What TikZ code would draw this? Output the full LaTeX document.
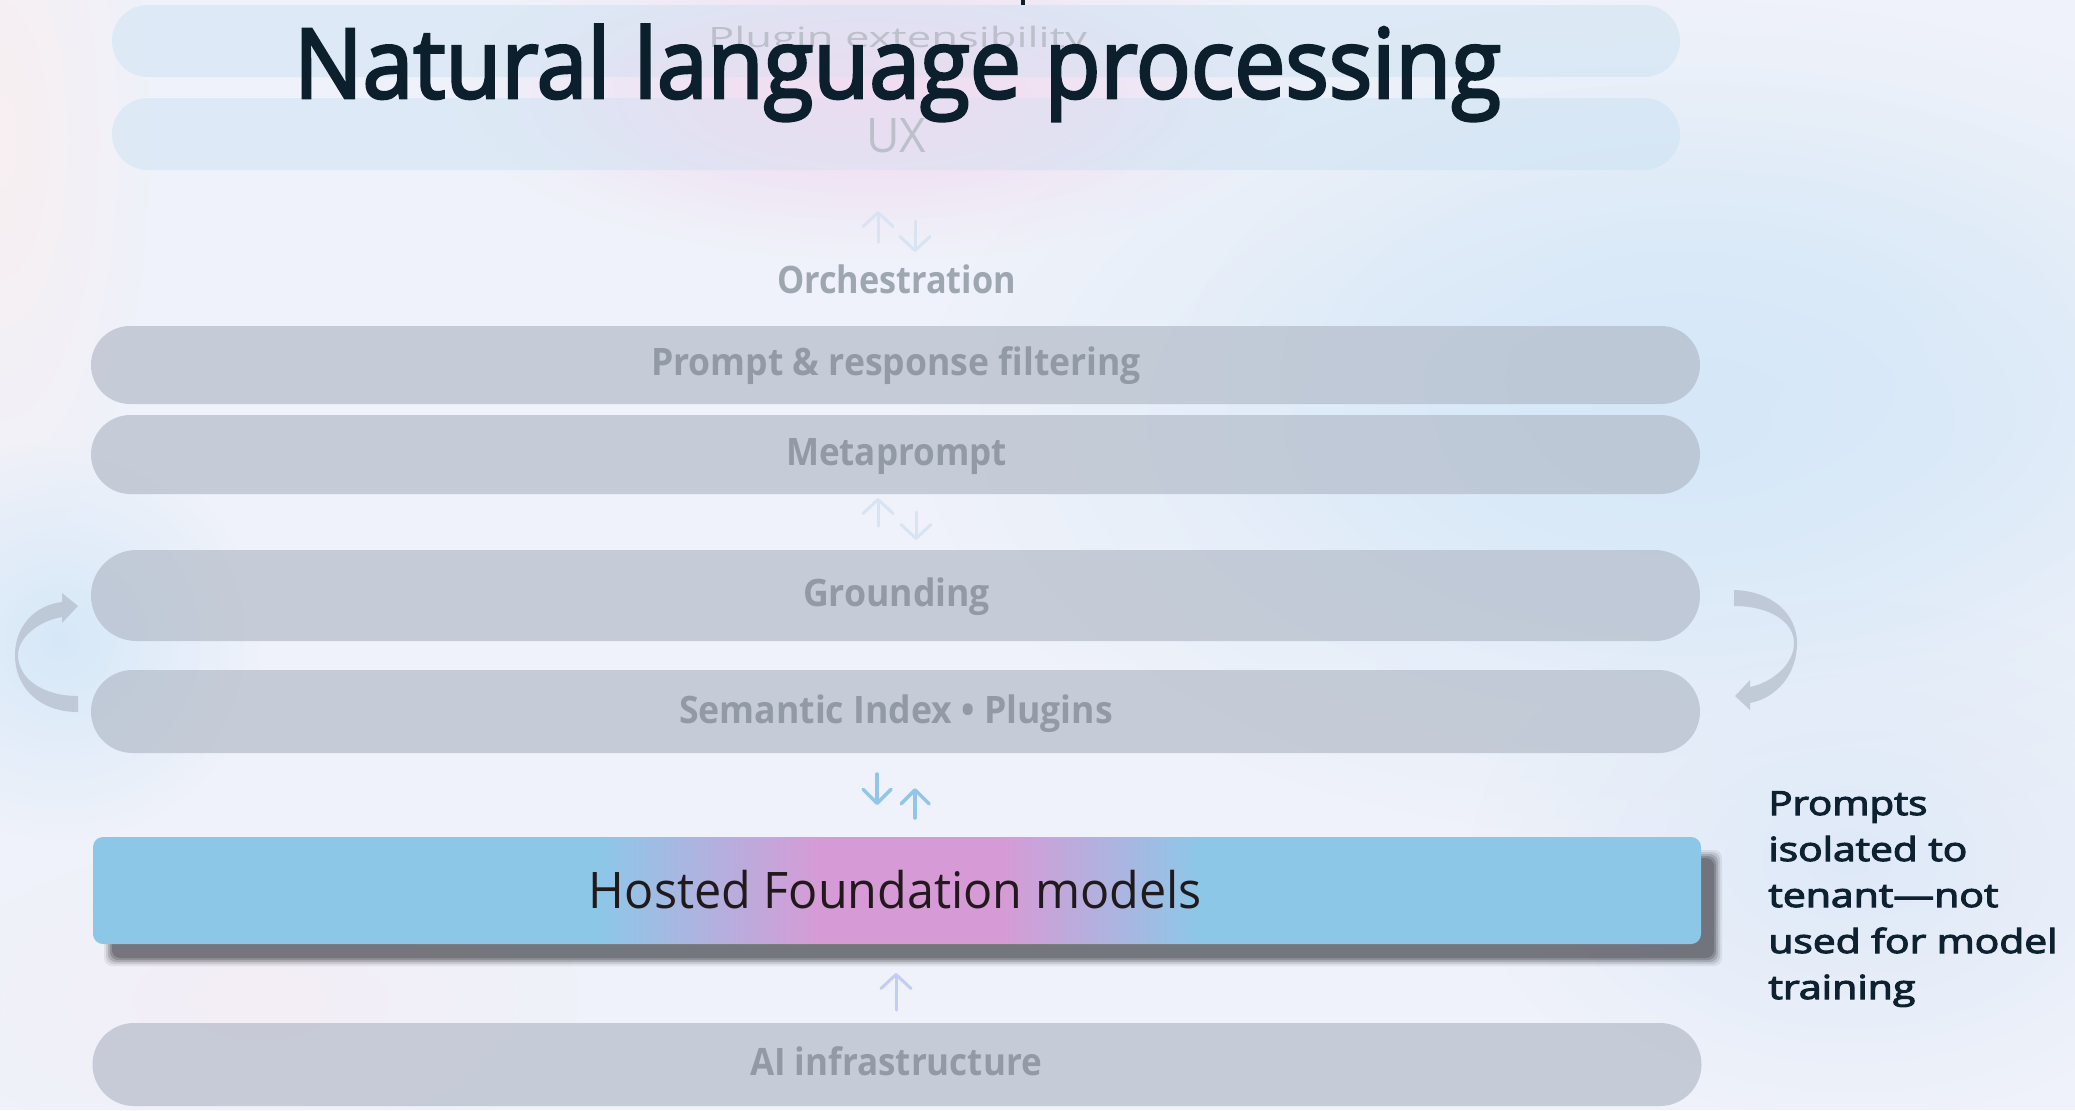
\documentclass[tikz,border=0pt]{standalone}
\usepackage{fontspec}
\usepackage{graphicx}
\setmainfont{Open Sans}
\newfontfamily\semib[FakeBold=3]{Open Sans}
\usetikzlibrary{arrows.meta,fadings}

\definecolor{bgbase}{HTML}{EFF2FA}
\definecolor{blobpink}{HTML}{F8EFF1}
\definecolor{bloblav}{HTML}{F1DDF1}
\definecolor{blobblue}{HTML}{D6E8F8}
\definecolor{blobbluec}{HTML}{D6E8F8}
\definecolor{blobblueb}{HTML}{DEE9F8}
\definecolor{bloblavb}{HTML}{F4EDF6}
\definecolor{topbar}{HTML}{C8E0F2}
\definecolor{barfill}{HTML}{B0B8C6}
\definecolor{labelgrey}{HTML}{929BA5}
\definecolor{orchgrey}{HTML}{9EA6B0}
\definecolor{palegrey}{HTML}{BCC0CB}
\definecolor{titlecol}{HTML}{0B1F2C}
\definecolor{hostedtext}{HTML}{22191D}
\definecolor{notecol}{HTML}{0E2130}
\definecolor{hblue}{HTML}{8DC7E8}
\definecolor{hpink}{HTML}{D69BD6}
\definecolor{faintarrow}{HTML}{D8E4F2}
\definecolor{bluearrow}{HTML}{92C6E9}
\definecolor{shadowcol}{HTML}{2A2A30}

\tikzfading[name=softblob, inner color=transparent!0, outer color=transparent!100]
\pgfdeclarehorizontalshading{hostedshade}{100bp}{color(0bp)=(hblue); color(25bp)=(hblue); color(40.8bp)=(hblue); color(47.6bp)=(hpink); color(53.3bp)=(hpink); color(59.4bp)=(hblue); color(75bp)=(hblue); color(100bp)=(hblue)}

\newcommand\fitw[2]{\resizebox{#1}{\height}{#2}}

\begin{document}
\begin{tikzpicture}[x=0.5pt,y=-0.5pt,
  blob/.style={fill=#1, path fading=softblob},
  topbarstyle/.style={fill=topbar, fill opacity=0.45, inner sep=0pt, minimum width=784pt, minimum height=36pt, rounded corners=18pt},
  greybar/.style={fill=barfill, fill opacity=0.65, inner sep=0pt, minimum width=804.5pt, rounded corners=#1},
  lbl/.style={inner sep=0pt, anchor=base, text=labelgrey, font=\bfseries\fontsize{18.9pt}{22pt}\selectfont},
  note/.style={inner sep=0pt, anchor=base west, text=notecol, font=\semib\fontsize{16.6pt}{20pt}\selectfont},
  hostedbox/.style={inner sep=0pt, minimum width=804pt, minimum height=53.5pt, rounded corners=5pt, shade, shading=hostedshade},
  shadowlayer/.style={fill=shadowcol, fill opacity=#1, rounded corners=4pt},
  loopfill/.style={fill=barfill, fill opacity=0.65},
  faint/.style={draw=faintarrow, line width=1.5pt, line cap=round, -{Straight Barb[round,length=7pt,width=15pt]}},
  bluearr/.style={draw=bluearrow, line width=1.75pt, line cap=round, -{Straight Barb[round,length=7pt,width=14pt]}}
]
\useasboundingbox (0,0) rectangle (2075,1110);
\clip (0,0) rectangle (2075,1110);
% background
\fill[bgbase] (0,0) rectangle (2075,1110);
\fill[blob=blobpink] (0,140) ellipse [x radius=150, y radius=420];
\fill[blob=blobblue] (1680,420) ellipse [x radius=760, y radius=420];
\fill[blob=blobbluec, opacity=0.8] (1700,380) ellipse [x radius=520, y radius=300];
\fill[blob=blobblue] (60,640) ellipse [x radius=200, y radius=200];
\fill[blob=blobblueb] (1850,860) ellipse [x radius=380, y radius=260];
\fill[blob=bloblavb] (260,1000) ellipse [x radius=320, y radius=160];
\fill[blob=bloblav] (880,90) ellipse [x radius=430, y radius=170];

% top faded bars
\node[topbarstyle] (plug) at (896,41) {};
\node[topbarstyle] (ux) at (896,134) {};
\fill[blob=bloblav, opacity=0.7] (860,100) ellipse [x radius=330, y radius=120];
\fill[titlecol] (1021,0) rectangle (1025,5);
\node[inner sep=0pt, anchor=base, text=palegrey, font=\fontsize{14pt}{16pt}\selectfont] (tplug) at (897.5,47) {\fitw{189.5pt}{Plugin extensibility}};
\node[inner sep=0pt, anchor=base, text=palegrey, font=\fontsize{23.8pt}{26pt}\selectfont] (tux) at (896,152) {\fitw{30pt}{UX}};

% title
\node[inner sep=0pt, anchor=base, text=titlecol, font=\semib\fontsize{48.3pt}{52pt}\selectfont] (title) at (897.5,98) {\fitw{603.5pt}{Natural language processing}};

% orchestration
\coordinate (a1s) at (878,242); \coordinate (a1e) at (878,211);
\coordinate (a2s) at (915,221); \coordinate (a2e) at (915,252);
\draw[faint] (a1s) -- (a1e);
\draw[faint] (a2s) -- (a2e);
\node[lbl, text=orchgrey] (torch) at (896.5,293) {\fitw{119.5pt}{Orchestration}};

% grey bars
\node[greybar=19.5pt, minimum height=39pt] (prompt) at (895.5,365) {};
\node[greybar=19.75pt, minimum height=39.5pt] (meta) at (895.5,454.5) {};
\node[greybar=22.75pt, minimum height=45.5pt] (ground) at (895.5,595.5) {};
\node[greybar=20.75pt, minimum height=41.5pt] (sem) at (895.5,711.5) {};
\node[greybar=20.75pt, minimum height=41.5pt] (ai) at (897,1064.5) {};

\node[lbl] (tprompt) at (896,375) {\fitw{245pt}{Prompt \& response filtering}};
\node[lbl] (tmeta) at (896.5,465) {\fitw{110.5pt}{Metaprompt}};
\node[lbl] (tground) at (896.5,606) {\fitw{93.5pt}{Grounding}};
\node[lbl] (tsem) at (896,723) {\fitw{217pt}{Semantic Index • Plugins}};
\node[lbl] (tai) at (896,1075) {\fitw{146pt}{AI infrastructure}};

% arrows between metaprompt and grounding
\coordinate (b1s) at (878,526); \coordinate (b1e) at (878,498);
\coordinate (b2s) at (916,512); \coordinate (b2e) at (916,540);
\draw[faint] (b1s) -- (b1e);
\draw[faint] (b2s) -- (b2e);

% loop arrows
\fill[loopfill] (78,712) .. controls (40,712) and (15,688) .. (15,655) .. controls (15,625) and (36,605) .. (62,602) -- (62,593) -- (78,606) -- (62,623) -- (62,617) .. controls (38,621) and (18,638) .. (18,655) .. controls (18,678) and (42,696) .. (78,696) -- cycle;
\fill[loopfill] (1734,590) .. controls (1772,591) and (1797,614) .. (1797,643) .. controls (1797,675) and (1776,698) .. (1750,703) -- (1750,710) -- (1735,696) -- (1750,680) -- (1750,687) .. controls (1773,682) and (1794,664) .. (1794,643) .. controls (1794,622) and (1770,606) .. (1734,606) -- cycle;

% arrows between semantic index and hosted models
\coordinate (c1s) at (877,774); \coordinate (c1e) at (877,805);
\coordinate (c2s) at (915,818); \coordinate (c2e) at (915,788);
\draw[bluearr] (c1s) -- (c1e);
\draw[bluearr] (c2s) -- (c2e);

% shadow of hosted box
\fill[shadowlayer=0.08] (104,850) rectangle (1722,966);
\fill[shadowlayer=0.12] (106,852) rectangle (1720,964);
\fill[shadowlayer=0.18] (108,854) rectangle (1718,962);
\fill[shadowlayer=0.22] (110,856) rectangle (1716,960);
\fill[shadowlayer=0.25] (112,858) rectangle (1714,958);
% hosted foundation models
\node[hostedbox] (hosted) at (897,890.5) {};
\node[inner sep=0pt, anchor=base, text=hostedtext, font=\fontsize{25.2pt}{28pt}\selectfont] (thosted) at (895.5,908) {\fitw{306.5pt}{Hosted Foundation models}};

% arrow from AI infrastructure
\coordinate (d1s) at (896,1010); \coordinate (d1e) at (896,973);
\draw[faint, draw=faintarrow!90!blue] (d1s) -- (d1e);

% note
\node[note] (n1) at (1768,815) {\fitw{79.5pt}{Prompts}};
\node[note] (n2) at (1768,861) {\fitw{99.5pt}{isolated to}};
\node[note] (n3) at (1768,907) {\fitw{115pt}{tenant—not}};
\node[note] (n4) at (1768,953) {\fitw{144.5pt}{used for model}};
\node[note] (n5) at (1768,999) {\fitw{73.5pt}{training}};
\end{tikzpicture}
\end{document}
